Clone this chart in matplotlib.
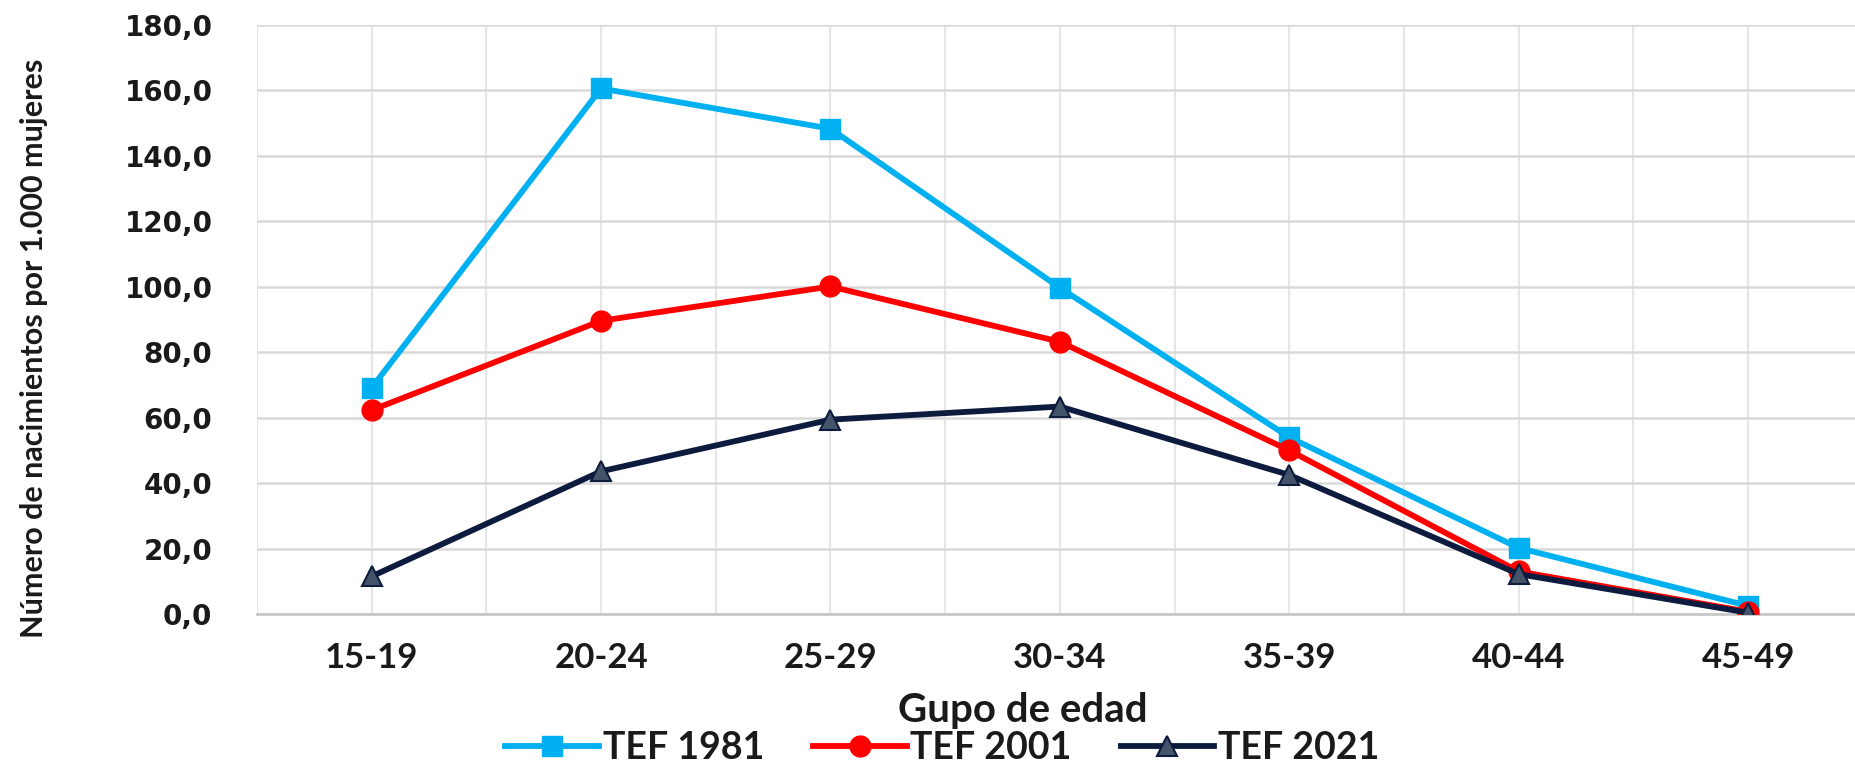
import matplotlib
matplotlib.use("Agg")
import matplotlib.pyplot as plt
from matplotlib.ticker import MultipleLocator, FuncFormatter

# datos
grupos = ['15-19', '20-24', '25-29', '30-34', '35-39', '40-44', '45-49']
tef_1981 = [69.1, 160.6, 148.3, 99.7, 54.0, 20.2, 2.5]
tef_2001 = [62.3, 89.6, 100.1, 83.2, 50.0, 13.0, 0.7]
tef_2021 = [11.5, 43.6, 59.4, 63.4, 42.5, 12.2, 0.4]

fuente_num = ['DejaVu Sans']
fuente_txt = ['Lato', 'DejaVu Sans']

fig = plt.figure(figsize=(18.55, 7.62), dpi=100)
ax = fig.add_axes([0.1385, 0.1942, 1 - 0.1385, 0.773])

x = list(range(len(grupos)))
ax.plot(x, tef_1981, color='#00B0F0', lw=4.2, marker='s', ms=14,
        mfc='#00B0F0', mec='#00B0F0', label='TEF 1981', zorder=3)
ax.plot(x, tef_2001, color='#FF0000', lw=4.2, marker='o', ms=15,
        mfc='#FF0000', mec='#FF0000', label='TEF 2001', zorder=4)
ax.plot(x, tef_2021, color='#0D1B3E', lw=4.2, marker='^', ms=15,
        mfc='#44546A', mec='#0D1B3E', mew=1.5, label='TEF 2021', zorder=5)

ax.set_ylim(0, 180)
ax.set_xlim(-0.5, 6.466)
ax.yaxis.set_major_locator(MultipleLocator(20))
ax.yaxis.set_major_formatter(FuncFormatter(lambda v, p: f'{v:.1f}'.replace('.', ',')))
ax.set_xticks(x)
ax.set_xticklabels(grupos)
ax.xaxis.set_minor_locator(MultipleLocator(0.5))

ax.grid(axis='y', which='major', color='#d9d9d9', lw=1.8, zorder=0)
ax.grid(axis='x', which='both', color='#e6e6e6', lw=1.6, zorder=0)
ax.set_axisbelow(True)

for s in ['top', 'right', 'left']:
    ax.spines[s].set_visible(False)
ax.spines['bottom'].set_color('#c8c8c8')
ax.spines['bottom'].set_linewidth(2)

ax.tick_params(axis='both', which='both', length=0)
ax.tick_params(axis='y', pad=32)
ax.tick_params(axis='x', pad=20)
for t in ax.get_yticklabels():
    t.set_fontfamily(fuente_num)
    t.set_fontweight('bold')
    t.set_fontsize(20)
    t.set_color('#1a1a1a')
for t in ax.get_xticklabels():
    t.set_fontfamily(fuente_txt)
    t.set_fontweight('bold')
    t.set_fontsize(25)
    t.set_color('#1a1a1a')

fig.text(0.0185, 0.543, 'Número de nacimientos por 1.000 mujeres', rotation=90,
         ha='center', va='center', fontsize=22, fontweight='bold',
         family=fuente_txt, color='#1a1a1a')
fig.text(0.5515, 0.068, 'Gupo de edad', ha='center', va='center',
         fontsize=29, fontweight='bold', family=fuente_txt, color='#1a1a1a')

leg = fig.legend(loc='center', bbox_to_anchor=(0.508, 0.018), ncol=3,
                 frameon=False, handlelength=2.5, columnspacing=1.3,
                 handletextpad=0.1,
                 prop={'family': fuente_txt, 'weight': 'bold', 'size': 27})
for t in leg.get_texts():
    t.set_color('#1a1a1a')

fig.savefig('out.png', dpi=100)
